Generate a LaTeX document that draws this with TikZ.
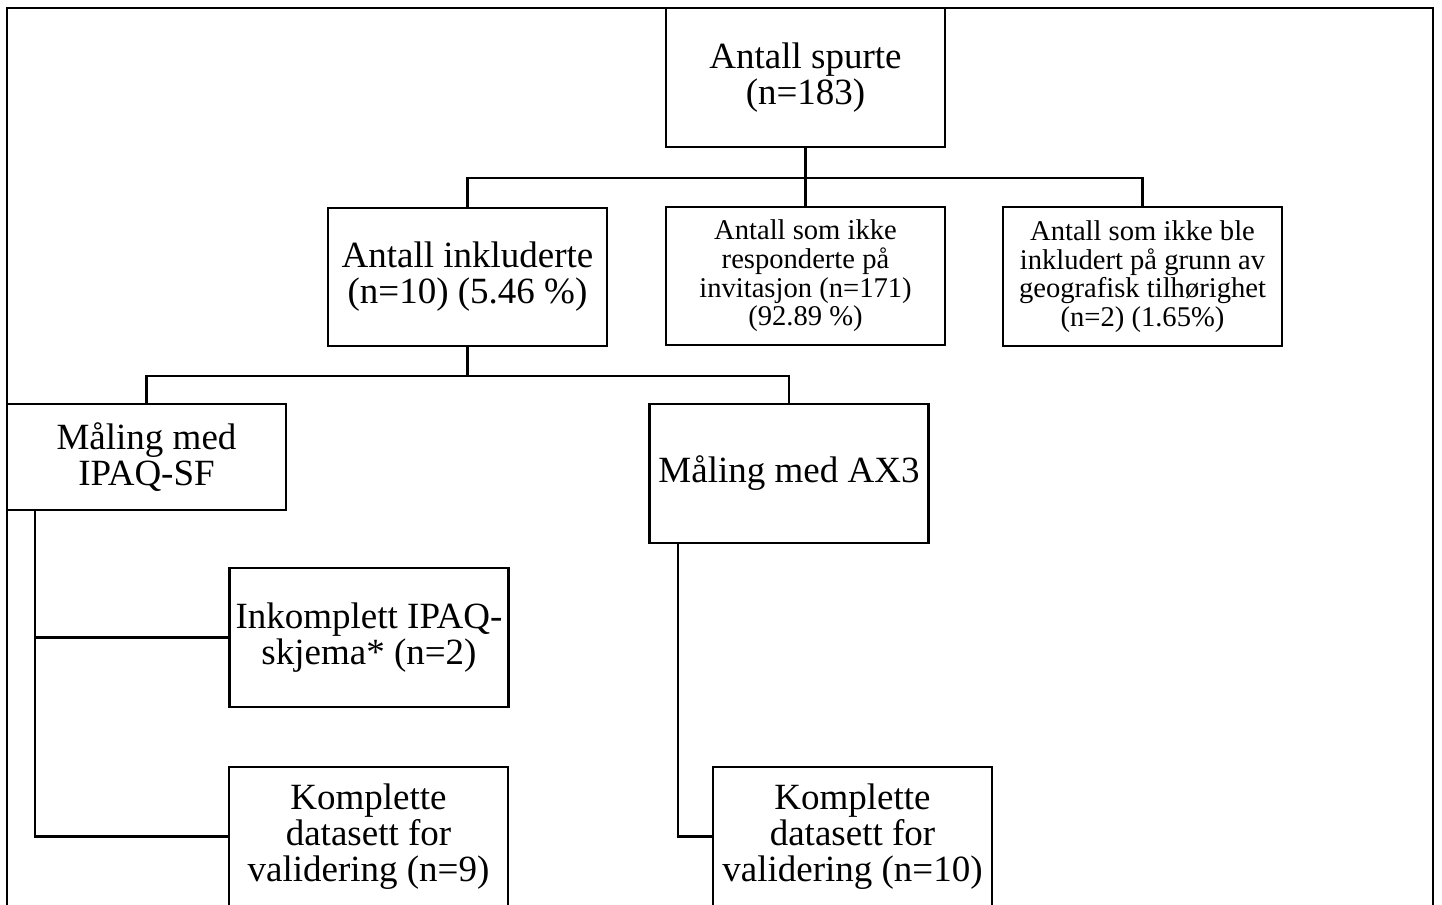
\documentclass[tikz,border=0pt]{standalone}
\usepackage{fontspec}
\setmainfont{Liberation Serif}

\begin{document}
\begin{tikzpicture}[
    x=0.5pt, y=-0.5pt,
    box/.style={draw, line width=1.2pt, minimum width=139.5pt, minimum height=69.5pt,
                align=center, inner sep=1pt, font=\fontsize{18.5}{18}\selectfont},
    sbox/.style={box, font=\fontsize{14.3}{14.3}\selectfont},
    link/.style={line width=1.2pt},
    frame/.style={line width=1pt},
]
\useasboundingbox (0,0) rectangle (1442,905);
\clip (0,0) rectangle (1442,905);
\draw[frame] (7,8) rectangle (1433,930);
\node[box]  (spurte)   at (805.5,77.5) {Antall spurte\\(n=183)};
\node[box, minimum height=69pt] (inkl) at (467.5,277) {Antall inkluderte\\(n=10) (5.46 \%)};
\node[sbox, minimum height=69pt] (ikkeresp) at (805.5,276) {Antall som ikke\\responderte på\\invitasjon (n=171)\\(92.89 \%)};
\node[sbox] (geo)      at (1142.5,276.5) {Antall som ikke ble\\inkludert på grunn av\\geografisk tilhørighet\\(n=2) (1.65\%)};
\node[box, minimum height=53pt] (ipaq) at (146.5,457) {Måling med\\IPAQ-SF};
\node[box]  (ax3)      at (789,473.5) {Måling med AX3};
\node[box]  (inkompl)  at (369,637.5) {Inkomplett IPAQ-\\skjema* (n=2)};
\node[box]  (kompl9)   at (368.5,836.5) {Komplette\\datasett for\\validering (n=9)};
\node[box]  (kompl10)  at (852.5,836.5) {Komplette\\datasett for\\validering (n=10)};
\coordinate (bar1) at (0,178);
\coordinate (bar2) at (0,376);
\coordinate (trunk1) at (35,0);
\coordinate (trunk2) at (678,0);
\draw[link] (spurte.south) -- (ikkeresp.north);
\draw[link] (inkl.north) -- (inkl.north |- bar1) -| (geo.north);
\draw[link] (inkl.south) -- (inkl.south |- bar2);
\draw[link] (ipaq.north) -- (ipaq.north |- bar2) -| (ax3.north);
\draw[link] (ipaq.south -| trunk1) |- (kompl9.west);
\draw[link] (inkompl.west) -- (inkompl.west -| trunk1);
\draw[link] (ax3.south -| trunk2) |- (kompl10.west);
\end{tikzpicture}
\end{document}
